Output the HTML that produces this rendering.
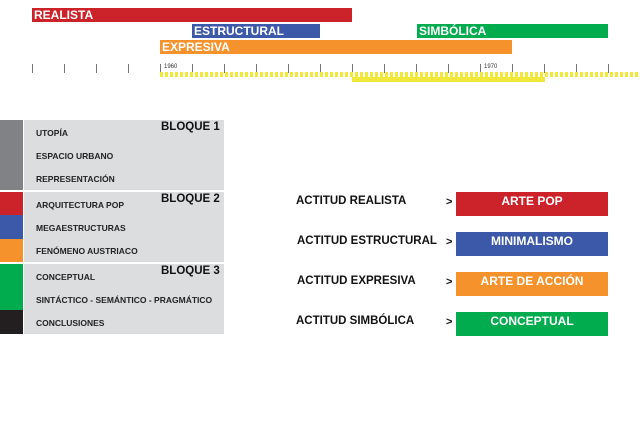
<!DOCTYPE html><html><head><style>
*{margin:0;padding:0}body{width:640px;height:441px;background:#fff;position:relative;overflow:hidden;font-family:"Liberation Sans",Arial,sans-serif;font-weight:bold}
.a{position:absolute}
.bar{position:absolute;color:#fff;font-size:12px;line-height:14px;padding-left:2px;white-space:nowrap}
.t{position:absolute;width:1px;height:9px;background:#777;top:64px}
.it{position:absolute;left:36px;font-size:8.5px;color:#222;white-space:nowrap}
.bl{position:absolute;left:161px;font-size:11.5px;color:#111}
.lab{position:absolute;left:296px;font-size:11.5px;color:#111;white-space:nowrap}
.gt{position:absolute;left:446px;font-size:11px;color:#111}
.box{position:absolute;left:456px;width:152px;height:24px;color:#fff;font-size:12px;text-align:center;line-height:18px}
</style></head><body>
<div class="bar" style="left:32px;top:8px;width:318px;background:#cc2229">REALISTA</div>
<div class="bar" style="left:192px;top:24px;width:126px;background:#3c58a8">ESTRUCTURAL</div>
<div class="bar" style="left:417px;top:24px;width:189px;background:#00ac4e">SIMBÓLICA</div>
<div class="bar" style="left:160px;top:40px;width:350px;background:#f6922b">EXPRESIVA</div>
<div class="t" style="left:32px"></div><div class="t" style="left:64px"></div><div class="t" style="left:96px"></div><div class="t" style="left:128px"></div><div class="t" style="left:160px"></div><div class="t" style="left:192px"></div><div class="t" style="left:224px"></div><div class="t" style="left:256px"></div><div class="t" style="left:288px"></div><div class="t" style="left:320px"></div><div class="t" style="left:352px"></div><div class="t" style="left:384px"></div><div class="t" style="left:416px"></div><div class="t" style="left:448px"></div><div class="t" style="left:480px"></div><div class="t" style="left:512px"></div><div class="t" style="left:544px"></div><div class="t" style="left:576px"></div><div class="t" style="left:608px"></div>
<div class="a" style="left:164px;top:64px;font-size:6px;font-weight:normal;color:#333">1960</div>
<div class="a" style="left:484px;top:64px;font-size:6px;font-weight:normal;color:#333">1970</div>
<div class="a" style="left:160px;top:72px;width:480px;height:5px;background:repeating-linear-gradient(90deg,#f1e83a 0 3px,transparent 3px 5px)"></div>
<div class="a" style="left:352px;top:77px;width:193px;height:5px;background:#f1e83a"></div>
<div class="a" style="left:0;top:120px;width:23px;height:70px;background:#808285"></div>
<div class="a" style="left:0;top:192px;width:23px;height:23px;background:#cc2229"></div>
<div class="a" style="left:0;top:215px;width:23px;height:24px;background:#3c58a8"></div>
<div class="a" style="left:0;top:239px;width:23px;height:23px;background:#f6922b"></div>
<div class="a" style="left:0;top:264px;width:23px;height:46px;background:#00ac4e"></div>
<div class="a" style="left:0;top:310px;width:23px;height:24px;background:#231f20"></div>
<div class="a" style="left:24px;top:120px;width:200px;height:70px;background:#dcdddf"></div>
<div class="a" style="left:24px;top:192px;width:200px;height:70px;background:#dcdddf"></div>
<div class="a" style="left:24px;top:264px;width:200px;height:70px;background:#dcdddf"></div>
<div class="bl" style="top:121px">BLOQUE 1</div><div class="bl" style="top:193px">BLOQUE 2</div><div class="bl" style="top:265px">BLOQUE 3</div>
<div class="it" style="top:128px">UTOPÍA</div>
<div class="it" style="top:151px">ESPACIO URBANO</div>
<div class="it" style="top:174px">REPRESENTACIÓN</div>
<div class="it" style="top:200px">ARQUITECTURA POP</div>
<div class="it" style="top:223px">MEGAESTRUCTURAS</div>
<div class="it" style="top:246px">FENÓMENO AUSTRIACO</div>
<div class="it" style="top:272px">CONCEPTUAL</div>
<div class="it" style="top:295px">SINTÁCTICO - SEMÁNTICO - PRAGMÁTICO</div>
<div class="it" style="top:318px">CONCLUSIONES</div>
<div class="lab" style="top:195px">ACTITUD REALISTA</div><div class="gt" style="top:196px">&gt;</div>
<div class="lab" style="top:235px;left:297px">ACTITUD ESTRUCTURAL</div><div class="gt" style="top:236px">&gt;</div>
<div class="lab" style="top:275px;left:297px">ACTITUD EXPRESIVA</div><div class="gt" style="top:276px">&gt;</div>
<div class="lab" style="top:315px">ACTITUD SIMBÓLICA</div><div class="gt" style="top:316px">&gt;</div>
<div class="box" style="top:192px;background:#cc2229">ARTE POP</div>
<div class="box" style="top:232px;background:#3c58a8">MINIMALISMO</div>
<div class="box" style="top:272px;background:#f6922b">ARTE DE ACCIÓN</div>
<div class="box" style="top:312px;background:#00ac4e">CONCEPTUAL</div>
</body></html>
